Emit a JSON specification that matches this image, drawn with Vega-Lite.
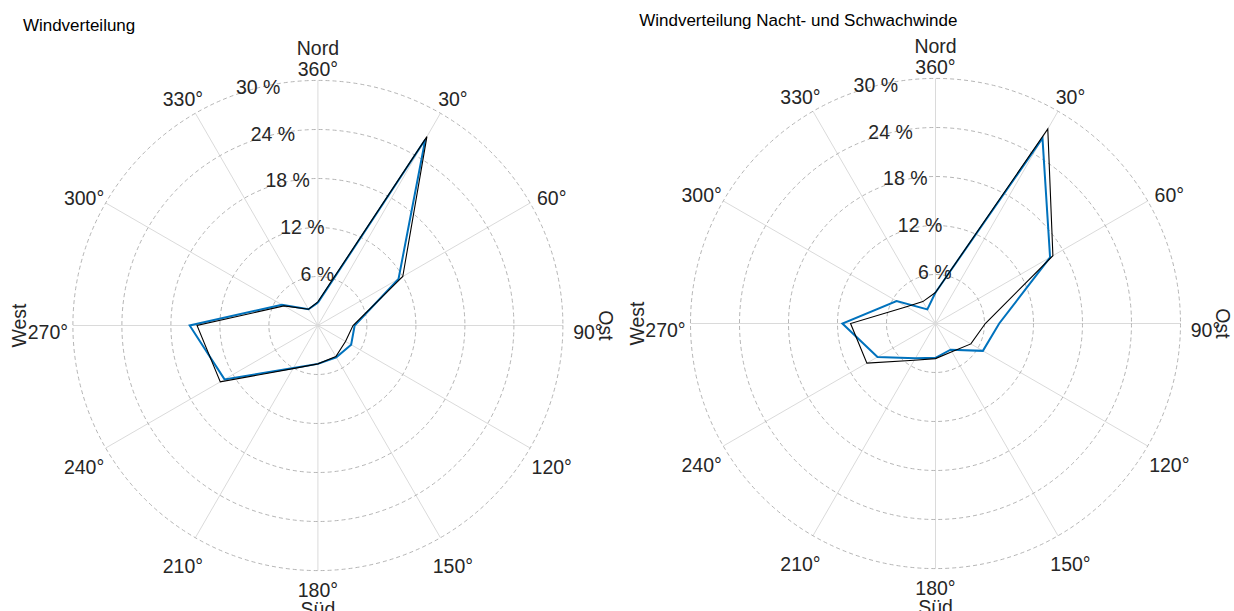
{
"$schema": "https://vega.github.io/schema/vega-lite/v6.json",
"autosize": {"type": "pad"},
"padding": {"left": 9.9, "top": 11.5, "right": 0, "bottom": 0},
"bounds": "flush",
"spacing": 26.3,
"config": {"view": {"stroke": null}, "font": "Liberation Sans"},
"datasets": {
"wind": [
{"panel":"L","series":"A","deg":0,"pct":2.8},{"panel":"L","series":"A","deg":30,"pct":26.3},{"panel":"L","series":"A","deg":60,"pct":11.4},{"panel":"L","series":"A","deg":90,"pct":4.5},{"panel":"L","series":"A","deg":120,"pct":4.7},{"panel":"L","series":"A","deg":150,"pct":4.5},{"panel":"L","series":"A","deg":180,"pct":4.7},{"panel":"L","series":"A","deg":210,"pct":6.0},{"panel":"L","series":"A","deg":240,"pct":13.2},{"panel":"L","series":"A","deg":270,"pct":15.7},{"panel":"L","series":"A","deg":300,"pct":5.1},{"panel":"L","series":"A","deg":330,"pct":2.3},{"panel":"L","series":"A","deg":360,"pct":2.8},
{"panel":"L","series":"B","deg":0,"pct":2.9},{"panel":"L","series":"B","deg":30,"pct":26.7},{"panel":"L","series":"B","deg":60,"pct":12.0},{"panel":"L","series":"B","deg":90,"pct":4.3},{"panel":"L","series":"B","deg":120,"pct":3.9},{"panel":"L","series":"B","deg":150,"pct":4.4},{"panel":"L","series":"B","deg":180,"pct":4.7},{"panel":"L","series":"B","deg":210,"pct":6.1},{"panel":"L","series":"B","deg":240,"pct":13.8},{"panel":"L","series":"B","deg":270,"pct":14.8},{"panel":"L","series":"B","deg":300,"pct":4.8},{"panel":"L","series":"B","deg":330,"pct":2.3},{"panel":"L","series":"B","deg":360,"pct":2.9},
{"panel":"R","series":"A","deg":0,"pct":3.8},{"panel":"R","series":"A","deg":30,"pct":26.2},{"panel":"R","series":"A","deg":60,"pct":16.2},{"panel":"R","series":"A","deg":90,"pct":7.8},{"panel":"R","series":"A","deg":120,"pct":6.7},{"panel":"R","series":"A","deg":150,"pct":3.7},{"panel":"R","series":"A","deg":180,"pct":4.2},{"panel":"R","series":"A","deg":210,"pct":4.9},{"panel":"R","series":"A","deg":240,"pct":8.2},{"panel":"R","series":"A","deg":270,"pct":11.4},{"panel":"R","series":"A","deg":300,"pct":5.5},{"panel":"R","series":"A","deg":330,"pct":2.0},{"panel":"R","series":"A","deg":360,"pct":3.8},
{"panel":"R","series":"B","deg":0,"pct":3.8},{"panel":"R","series":"B","deg":30,"pct":27.5},{"panel":"R","series":"B","deg":60,"pct":16.6},{"panel":"R","series":"B","deg":90,"pct":6.1},{"panel":"R","series":"B","deg":120,"pct":5.0},{"panel":"R","series":"B","deg":150,"pct":4.0},{"panel":"R","series":"B","deg":180,"pct":4.3},{"panel":"R","series":"B","deg":210,"pct":5.2},{"panel":"R","series":"B","deg":240,"pct":9.7},{"panel":"R","series":"B","deg":270,"pct":10.4},{"panel":"R","series":"B","deg":300,"pct":4.1},{"panel":"R","series":"B","deg":330,"pct":3.1},{"panel":"R","series":"B","deg":360,"pct":3.8}
],
"spokes": [{"deg":0},{"deg":30},{"deg":60},{"deg":90},{"deg":120},{"deg":150},{"deg":180},{"deg":210},{"deg":240},{"deg":270},{"deg":300},{"deg":330}],
"rings": [{"r":6},{"r":12},{"r":18},{"r":24},{"r":30}],
"ticks": [{"r":6,"label":"6 %"},{"r":12,"label":"12 %"},{"r":18,"label":"18 %"},{"r":24,"label":"24 %"},{"r":30,"label":"30 %"}],
"angles": [{"deg":0,"label":"360°"},{"deg":30,"label":"30°"},{"deg":60,"label":"60°"},{"deg":90,"label":"90°"},{"deg":120,"label":"120°"},{"deg":150,"label":"150°"},{"deg":180,"label":"180°"},{"deg":210,"label":"210°"},{"deg":240,"label":"240°"},{"deg":270,"label":"270°"},{"deg":300,"label":"300°"},{"deg":330,"label":"330°"}],
"cardinal": [{"deg":0,"label":"Nord"},{"deg":90,"label":"Ost"},{"deg":180,"label":"Süd"},{"deg":270,"label":"West"}]
},
"hconcat": [
{
"width": 590, "height": 576,
"title": {"text": "Windverteilung", "anchor": "start", "frame": "group", "offset": 2.5, "fontSize": 17, "fontWeight": "normal", "font": "Liberation Sans", "color": "#000000"},
"encoding": {
"x": {"field": "px", "type": "quantitative", "scale": {"domain": [-36.122, 36.122], "nice": false, "zero": false}, "axis": null},
"y": {"field": "py", "type": "quantitative", "scale": {"domain": [-35.265, 35.265], "nice": false, "zero": false}, "axis": null}
},
"layer": [
{"data": {"name": "spokes"}, "transform": [{"calculate": "0", "as": "px"}, {"calculate": "0", "as": "py"}, {"calculate": "30*sin(datum.deg*PI/180)", "as": "qx"}, {"calculate": "30*cos(datum.deg*PI/180)", "as": "qy"}],
 "mark": {"type": "rule", "stroke": "#dadada", "strokeWidth": 1}, "encoding": {"x2": {"field": "qx"}, "y2": {"field": "qy"}}},
{"data": {"name": "rings"}, "transform": [{"calculate": "0", "as": "px"}, {"calculate": "0", "as": "py"}],
 "mark": {"type": "point", "shape": "circle", "filled": false, "fill": null, "opacity": 1, "stroke": "#a8a8a8", "strokeDash": [4, 3], "strokeWidth": 0.85},
 "encoding": {"size": {"field": "r", "type": "quantitative", "legend": null, "scale": {"type": "pow", "exponent": 2, "domain": [0, 30], "range": [0, 240100], "zero": true, "nice": false}}}},
{"data": {"name": "ticks"}, "transform": [{"calculate": "datum.r*sin(-17.5*PI/180)", "as": "px"}, {"calculate": "datum.r*cos(-17.5*PI/180)", "as": "py"}],
 "mark": {"type": "text", "align": "center", "baseline": "middle", "dx": 14, "dy": -4, "fontSize": 19.5, "font": "Liberation Sans", "color": "#262626"}, "encoding": {"text": {"field": "label"}}},
{"data": {"name": "angles"}, "transform": [{"filter": "datum.deg != 0 && datum.deg != 180"}, {"calculate": "33.061*sin(datum.deg*PI/180)", "as": "px"}, {"calculate": "33.061*cos(datum.deg*PI/180)", "as": "py"}],
 "mark": {"type": "text", "align": "center", "baseline": "middle", "dy": 8, "fontSize": 19.5, "font": "Liberation Sans", "color": "#262626"}, "encoding": {"text": {"field": "label"}}},
{"data": {"name": "angles"}, "transform": [{"filter": "datum.deg == 0 || datum.deg == 180"}, {"calculate": "31.959*sin(datum.deg*PI/180)", "as": "px"}, {"calculate": "31.959*cos(datum.deg*PI/180)", "as": "py"}],
 "mark": {"type": "text", "align": "center", "baseline": "middle", "dy": 5, "fontSize": 19.5, "font": "Liberation Sans", "color": "#262626"}, "encoding": {"text": {"field": "label"}}},
{"data": {"name": "cardinal"}, "transform": [{"filter": "datum.deg == 0 || datum.deg == 180"}, {"calculate": "34.408*sin(datum.deg*PI/180)", "as": "px"}, {"calculate": "34.408*cos(datum.deg*PI/180)", "as": "py"}],
 "mark": {"type": "text", "align": "center", "baseline": "middle", "dy": 4, "fontSize": 19.5, "font": "Liberation Sans", "color": "#262626"}, "encoding": {"text": {"field": "label"}}},
{"data": {"name": "cardinal"}, "transform": [{"filter": "datum.deg == 270"}, {"calculate": "36.429*sin(datum.deg*PI/180)", "as": "px"}, {"calculate": "36.429*cos(datum.deg*PI/180)", "as": "py"}],
 "mark": {"type": "text", "align": "center", "baseline": "middle", "angle": 270, "fontSize": 19.5, "font": "Liberation Sans", "color": "#262626"}, "encoding": {"text": {"field": "label"}}},
{"data": {"name": "cardinal"}, "transform": [{"filter": "datum.deg == 90"}, {"calculate": "35.1*sin(datum.deg*PI/180)", "as": "px"}, {"calculate": "35.1*cos(datum.deg*PI/180)", "as": "py"}],
 "mark": {"type": "text", "align": "center", "baseline": "middle", "angle": 90, "fontSize": 19.5, "font": "Liberation Sans", "color": "#262626"}, "encoding": {"text": {"field": "label"}}},
{"data": {"name": "wind"}, "transform": [{"filter": "datum.panel == 'L' && datum.series == 'A'"}, {"calculate": "datum.pct*sin(datum.deg*PI/180)", "as": "px"}, {"calculate": "datum.pct*cos(datum.deg*PI/180)", "as": "py"}],
 "mark": {"type": "line", "stroke": "#0072BD", "strokeWidth": 2}, "encoding": {"order": {"field": "deg", "type": "quantitative"}}},
{"data": {"name": "wind"}, "transform": [{"filter": "datum.panel == 'L' && datum.series == 'B'"}, {"calculate": "datum.pct*sin(datum.deg*PI/180)", "as": "px"}, {"calculate": "datum.pct*cos(datum.deg*PI/180)", "as": "py"}],
 "mark": {"type": "line", "stroke": "#000000", "strokeWidth": 1.1}, "encoding": {"order": {"field": "deg", "type": "quantitative"}}}
]
},
{
"width": 590, "height": 576,
"title": {"text": "Windverteilung Nacht- und Schwachwinde", "anchor": "start", "frame": "group", "offset": 6.5, "fontSize": 17, "fontWeight": "normal", "font": "Liberation Sans", "color": "#000000"},
"encoding": {
"x": {"field": "px", "type": "quantitative", "scale": {"domain": [-36.282, 35.963], "nice": false, "zero": false}, "axis": null},
"y": {"field": "py", "type": "quantitative", "scale": {"domain": [-35.51, 35.02], "nice": false, "zero": false}, "axis": null}
},
"layer": [
{"data": {"name": "spokes"}, "transform": [{"calculate": "0", "as": "px"}, {"calculate": "0", "as": "py"}, {"calculate": "30*sin(datum.deg*PI/180)", "as": "qx"}, {"calculate": "30*cos(datum.deg*PI/180)", "as": "qy"}],
 "mark": {"type": "rule", "stroke": "#dadada", "strokeWidth": 1}, "encoding": {"x2": {"field": "qx"}, "y2": {"field": "qy"}}},
{"data": {"name": "rings"}, "transform": [{"calculate": "0", "as": "px"}, {"calculate": "0", "as": "py"}],
 "mark": {"type": "point", "shape": "circle", "filled": false, "fill": null, "opacity": 1, "stroke": "#a8a8a8", "strokeDash": [4, 3], "strokeWidth": 0.85},
 "encoding": {"size": {"field": "r", "type": "quantitative", "legend": null, "scale": {"type": "pow", "exponent": 2, "domain": [0, 30], "range": [0, 240100], "zero": true, "nice": false}}}},
{"data": {"name": "ticks"}, "transform": [{"calculate": "datum.r*sin(-17.5*PI/180)", "as": "px"}, {"calculate": "datum.r*cos(-17.5*PI/180)", "as": "py"}],
 "mark": {"type": "text", "align": "center", "baseline": "middle", "dx": 14, "dy": -4, "fontSize": 19.5, "font": "Liberation Sans", "color": "#262626"}, "encoding": {"text": {"field": "label"}}},
{"data": {"name": "angles"}, "transform": [{"filter": "datum.deg != 0 && datum.deg != 180"}, {"calculate": "33.061*sin(datum.deg*PI/180)", "as": "px"}, {"calculate": "33.061*cos(datum.deg*PI/180)", "as": "py"}],
 "mark": {"type": "text", "align": "center", "baseline": "middle", "dy": 8, "fontSize": 19.5, "font": "Liberation Sans", "color": "#262626"}, "encoding": {"text": {"field": "label"}}},
{"data": {"name": "angles"}, "transform": [{"filter": "datum.deg == 0 || datum.deg == 180"}, {"calculate": "31.959*sin(datum.deg*PI/180)", "as": "px"}, {"calculate": "31.959*cos(datum.deg*PI/180)", "as": "py"}],
 "mark": {"type": "text", "align": "center", "baseline": "middle", "dy": 5, "fontSize": 19.5, "font": "Liberation Sans", "color": "#262626"}, "encoding": {"text": {"field": "label"}}},
{"data": {"name": "cardinal"}, "transform": [{"filter": "datum.deg == 0 || datum.deg == 180"}, {"calculate": "34.408*sin(datum.deg*PI/180)", "as": "px"}, {"calculate": "34.408*cos(datum.deg*PI/180)", "as": "py"}],
 "mark": {"type": "text", "align": "center", "baseline": "middle", "dy": 4, "fontSize": 19.5, "font": "Liberation Sans", "color": "#262626"}, "encoding": {"text": {"field": "label"}}},
{"data": {"name": "cardinal"}, "transform": [{"filter": "datum.deg == 270"}, {"calculate": "36.429*sin(datum.deg*PI/180)", "as": "px"}, {"calculate": "36.429*cos(datum.deg*PI/180)", "as": "py"}],
 "mark": {"type": "text", "align": "center", "baseline": "middle", "angle": 270, "fontSize": 19.5, "font": "Liberation Sans", "color": "#262626"}, "encoding": {"text": {"field": "label"}}},
{"data": {"name": "cardinal"}, "transform": [{"filter": "datum.deg == 90"}, {"calculate": "35.1*sin(datum.deg*PI/180)", "as": "px"}, {"calculate": "35.1*cos(datum.deg*PI/180)", "as": "py"}],
 "mark": {"type": "text", "align": "center", "baseline": "middle", "angle": 90, "fontSize": 19.5, "font": "Liberation Sans", "color": "#262626"}, "encoding": {"text": {"field": "label"}}},
{"data": {"name": "wind"}, "transform": [{"filter": "datum.panel == 'R' && datum.series == 'A'"}, {"calculate": "datum.pct*sin(datum.deg*PI/180)", "as": "px"}, {"calculate": "datum.pct*cos(datum.deg*PI/180)", "as": "py"}],
 "mark": {"type": "line", "stroke": "#0072BD", "strokeWidth": 2}, "encoding": {"order": {"field": "deg", "type": "quantitative"}}},
{"data": {"name": "wind"}, "transform": [{"filter": "datum.panel == 'R' && datum.series == 'B'"}, {"calculate": "datum.pct*sin(datum.deg*PI/180)", "as": "px"}, {"calculate": "datum.pct*cos(datum.deg*PI/180)", "as": "py"}],
 "mark": {"type": "line", "stroke": "#000000", "strokeWidth": 1.1}, "encoding": {"order": {"field": "deg", "type": "quantitative"}}}
]
}
]
}
